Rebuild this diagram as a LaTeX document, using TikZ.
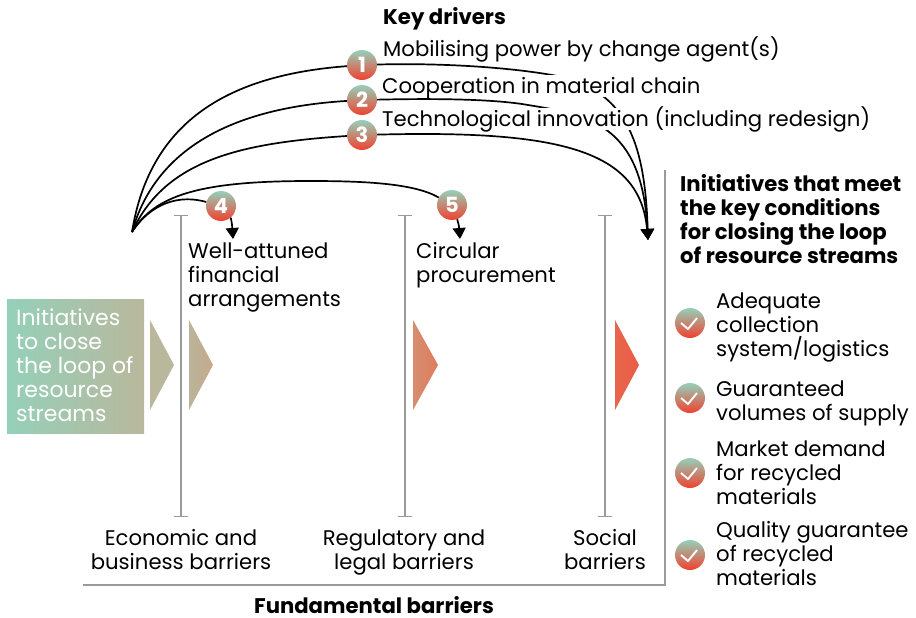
\documentclass[tikz,border=0pt]{standalone}
\usepackage{fontspec}
\setmainfont{Poppins}
\usetikzlibrary{arrows.meta,backgrounds}

\begin{document}
\begin{tikzpicture}[%
    x=1pt, y=-1pt,              % Coordinates are the pixels of the figure
    every node/.style={inner sep=0pt},
    ]
% -------------------------------------------------
% A few styles
\definecolor{mint}{HTML}{95D0B9}
\definecolor{tan}{HTML}{B9B89C}
\definecolor{hot}{HTML}{F0412F}
\definecolor{rail}{HTML}{9A9A9A}
\definecolor{w2a}{HTML}{BAB39A}
\definecolor{w2b}{HTML}{C5AA8B}
\definecolor{w3a}{HTML}{D68D6E}
\definecolor{w3b}{HTML}{DF7C5F}
\definecolor{w4a}{HTML}{E8664D}
\definecolor{w4b}{HTML}{EB5A45}
\tikzset{
  txt/.style={font=\fontsize{21.2}{24}\selectfont, align=left, anchor=base west},
  mid/.style={txt, align=center, anchor=base},
  head/.style={txt, font=\fontsize{21.2}{24}\selectfont\bfseries},
  driver/.style={txt, fill=white, text height=18pt, text depth=4pt},
  badge/.style={circle, minimum size=30pt, top color=mint, bottom color=hot,
    text=white, font=\fontsize{21}{21}\selectfont\bfseries},
  curve/.style={draw, line width=1.7pt},
  to/.style={curve, -{Triangle[length=11pt,width=13pt]}},
  barrier/.style={draw=rail, line width=1.3pt, {Bar[width=14pt]}-{Bar[width=14pt]}},
  frame/.style={draw=rail, line width=1.2pt},
  tick/.style={draw=white, line width=1.9pt, line join=round},
}
\useasboundingbox (0,0) rectangle (916,618);
% -------------------------------------------------
% Start and end of the curves, and the numbered badges
\coordinate (src) at (132,232);
\coordinate (dst) at (648,240);
\coordinate (t4) at (233,239);
\coordinate (t5) at (460,239);
\node [badge] (n1) at (362,65) {1};
\node [badge] (n2) at (362,100) {2};
\node [badge] (n3) at (362,135) {3};
\node [badge] (n4) at (221,206) {4};
\node [badge] (n5) at (452,205) {5};

\begin{scope}[on background layer]
\draw[curve] (src) .. controls (150,120) and (230,75) .. (n1);
\draw[to] (n1) .. controls (430,63) and (500,66) .. (552,75)
  .. controls (625,88) and (645,140) .. (dst);
\draw[curve] (src) .. controls (155,150) and (230,108) .. (n2);
\draw[to] (n2) .. controls (450,98) and (500,100) .. (528,105)
  .. controls (590,115) and (642,125) .. (dst);
\draw[curve] (src) .. controls (165,160) and (240,143) .. (n3);
\draw[to] (n3) .. controls (560,130) and (640,150) .. (dst);
\draw[curve] (src) .. controls (155,195) and (200,181) .. (310,181)
  .. controls (370,181) and (415,184) .. (n5);
\draw[curve] (src) .. controls (145,212) and (170,192) .. (n4);
% Drivers: the white fill cuts the curves
\node [driver] (k2) at (382,93) {Cooperation in material chain};
\node [driver] (k3) at (382,126) {Technological innovation (including redesign)};
\end{scope}
\node [head] (keyhead) at (383,25) {Key drivers};
\node [txt] (k1) at (383,57) {Mobilising power by change agent(s)};
\draw[to] (n4.-50) .. controls (232,224) .. (t4);
\draw[to] (n5.-70) .. controls (459,226) .. (t5);
% -------------------------------------------------
% Barriers
\coordinate (a1) at (181,215); \coordinate (a2) at (181,517);
\coordinate (b1) at (405,215); \coordinate (b2) at (405,517);
\coordinate (c1) at (605,215); \coordinate (c2) at (605,517);
\draw[barrier] (a1) -- (a2);
\draw[barrier] (b1) -- (b2);
\draw[barrier] (c1) -- (c2);
\coordinate (f1) at (665,170); \coordinate (f2) at (665,585); \coordinate (f3) at (83,585);
\draw[frame] (f1) -- (f2) -- (f3);

% Multi-line nodes sit on the base of their last line
\node [txt] (wa) at (188,306) {Well-attuned\\financial\\arrangements};
\node [txt] (cp) at (416,282) {Circular\\procurement};
\node [mid] (eb) at (181,569) {Economic and\\business barriers};
\node [mid] (rl) at (404,569) {Regulatory and\\legal barriers};
\node [mid] (sb) at (605,569) {Social\\barriers};
\node [head, anchor=base] (fb) at (374,613) {Fundamental barriers};
% -------------------------------------------------
% Initiatives and the wedges
\node [minimum width=137pt, minimum height=134pt, left color=mint, right color=tan, anchor=north west] (init) at (7,299) {};
\node [txt, text=white, font=\fontsize{22}{24}\selectfont] (initxt) at (16,421) {Initiatives\\to close\\the loop of\\resource\\streams};
\path[left color=tan, right color=tan] (150,320) -- (174,365) -- (150,410) -- cycle;
\path[left color=w2a, right color=w2b] (189,320) -- (213,365) -- (189,410) -- cycle;
\path[left color=w3a, right color=w3b] (413,320) -- (438,365) -- (413,410) -- cycle;
\path[left color=w4a, right color=w4b] (615,320) -- (639,365) -- (615,410) -- cycle;
% -------------------------------------------------
% Conditions
\node [head] (cond) at (680,263) {Initiatives that meet\\the key conditions\\for closing the loop\\of resource streams};
\node [txt] (c1t) at (716,356) {Adequate\\collection\\system/logistics};
\node [txt] (c2t) at (716,420) {Guaranteed\\volumes of supply};
\node [txt] (c3t) at (716,504) {Market demand\\for recycled\\materials};
\node [txt] (c4t) at (716,585) {Quality guarantee\\of recycled\\materials};
\foreach \name/\ypos in {ok1/323, ok2/398, ok3/473, ok4/555}{
  \node [badge] (\name) at (690,\ypos) {};
  \draw[tick] ([shift={(-9,0)}]\name.center) -- ([shift={(-2,6)}]\name.center) -- ([shift={(7,-5)}]\name.center);
}
% -------------------------------------------------
\end{tikzpicture}
\end{document}
